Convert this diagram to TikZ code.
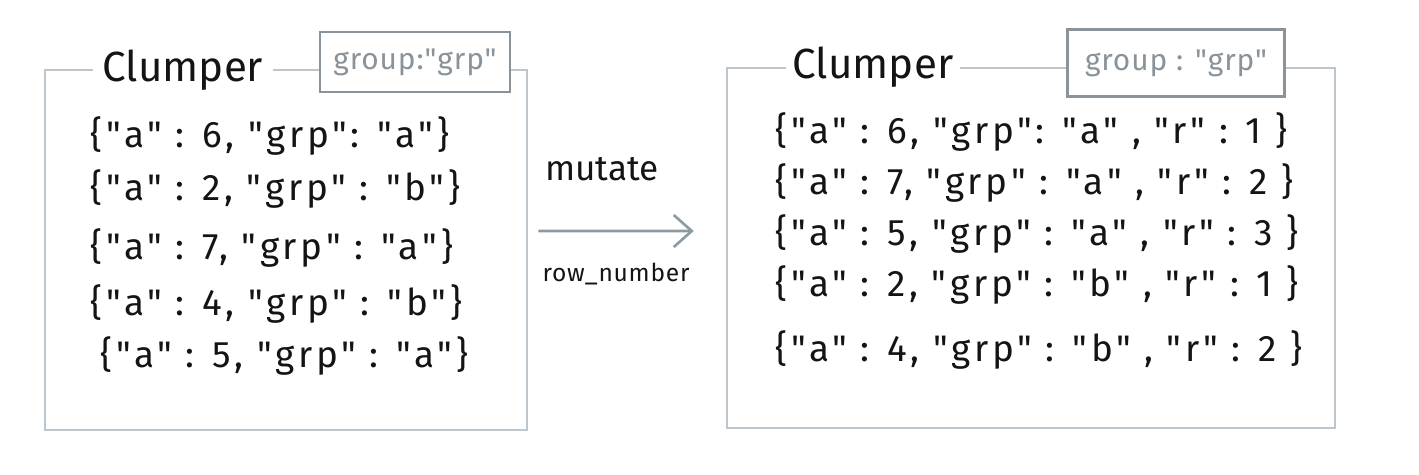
\documentclass[tikz,border=0pt]{standalone}
\usepackage{fontspec}
\setmainfont{Fira Sans}
\newfontfamily\handfont{Fira Sans}[LetterSpace=10]
\newfontfamily\tagfont{Fira Sans}[LetterSpace=3]
\usetikzlibrary{arrows.meta, positioning}
\definecolor{framegray}{HTML}{BCC6CC}
\definecolor{taggray}{HTML}{8A9399}
\definecolor{arrowgray}{HTML}{8E9AA2}
\definecolor{ink}{HTML}{141414}

\tikzset{
  clumpframe/.style={rectangle, draw=framegray, line width=1.5pt},
  cltitle/.style={fill=white, inner sep=0pt, minimum height=1cm, text=ink, font=\fontsize{24}{28}\selectfont},
  grouptag/.style={rectangle, draw=taggray, fill=white, line width=1.5pt, text=taggray, font=\tagfont\fontsize{17}{20}\selectfont},
  rowtext/.style={anchor=west, inner sep=0pt, text=ink, font=\handfont\fontsize{21}{24}\selectfont}
}

\begin{document}
\begin{tikzpicture}[x=0.02cm, y=-0.02cm]
\useasboundingbox (0,0) rectangle (1419,474);

% Input clumper
\node[clumpframe, minimum width=9.64cm, minimum height=7.2cm] (left) at (286,250) {};
\node[cltitle, minimum width=3.6cm] (lefttitle) at (183,70) {Clumper};
\node[grouptag, minimum width=3.8cm, minimum height=1.2cm] (lefttag) at (415,62) {group:"grp"};

\node[rowtext] (l1) at (90,136) {\{"a" : 6, "grp": "a"\}};
\node[rowtext] (l2) at (90,189) {\{"a" : 2, "grp" : "b"\}};
\node[rowtext] (l3) at (90,248) {\{"a" : 7, "grp" : "a"\}};
\node[rowtext] (l4) at (90,304) {\{"a" : 4, "grp" : "b"\}};
\node[rowtext] (l5) at (100,356) {\{"a" : 5, "grp" : "a"\}};

% Output clumper
\node[clumpframe, minimum width=12.16cm, minimum height=7.2cm] (right) at (1031,248) {};
\node[cltitle, minimum width=3.5cm] (righttitle) at (873,67) {Clumper};
\node[grouptag, minimum width=4.34cm, minimum height=1.34cm] (righttag) at (1176,63) {group : "grp"};

\node[rowtext] (r1) at (775,132) {\{"a" : 6, "grp": "a" , "r" : 1 \}};
\node[rowtext] (r2) at (775,183) {\{"a" : 7, "grp" : "a" , "r" : 2 \}};
\node[rowtext] (r3) at (775,234) {\{"a" : 5, "grp" : "a" , "r" : 3 \}};
\node[rowtext] (r4) at (775,285) {\{"a" : 2, "grp" : "b" , "r" : 1 \}};
\node[rowtext] (r5) at (775,350) {\{"a" : 4, "grp" : "b" , "r" : 2 \}};

% Verb
\draw[-{Straight Barb[length=3.6mm, width=6.4mm]}, arrowgray, line width=1.5pt]
  ([xshift=0.2cm, yshift=0.38cm]left.east) -- ([xshift=-0.64cm, yshift=0.34cm]right.west)
  node[midway, above=0.98cm, xshift=-0.28cm, inner sep=0pt, text=ink, font=\fontsize{20}{24}\selectfont] (mutlabel) {mutate}
  node[midway, below=0.62cm, inner sep=0pt, text=ink, font=\tagfont\fontsize{14}{17}\selectfont] (fnlabel) {row\_number};
\end{tikzpicture}
\end{document}
